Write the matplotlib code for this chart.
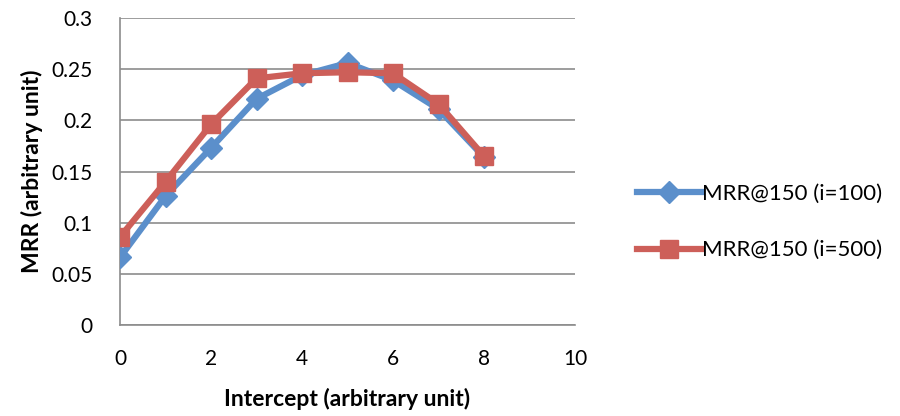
import matplotlib
matplotlib.use("Agg")
import matplotlib.pyplot as plt

# values
intercept = [0, 1, 2, 3, 4, 5, 6, 7, 8]
mrr_i100 = [0.066, 0.126, 0.173, 0.221, 0.244, 0.256, 0.239, 0.211, 0.164]
mrr_i500 = [0.086, 0.140, 0.196, 0.241, 0.246, 0.247, 0.246, 0.216, 0.165]
series_names = ["MRR@150 (i=100)", "MRR@150 (i=500)"]
y_ticks = [0, 0.05, 0.1, 0.15, 0.2, 0.25, 0.3]
y_tick_labels = ["0", "0.05", "0.1", "0.15", "0.2", "0.25", "0.3"]
x_ticks = [0, 2, 4, 6, 8, 10]

plt.rcParams["font.family"] = ["Lato", "DejaVu Sans"]

fig = plt.figure(figsize=(9, 4.16), dpi=100)
ax = fig.add_axes([120/900, 1 - 325/416, 455/900, 307/416])

grid_col = "#8c8c8c"
blue = "#5b8fcb"
red = "#cd5f59"

ax.plot(intercept, mrr_i100, color=blue, lw=4.5, marker="D", ms=11,
        label=series_names[0], zorder=3)
ax.plot(intercept, mrr_i500, color=red, lw=4.5, marker="s", ms=13,
        label=series_names[1], zorder=4)

ax.set_xlim(0, 10)
ax.set_ylim(0, 0.3)
ax.set_yticks(y_ticks)
ax.set_yticklabels(y_tick_labels)
ax.set_xticks(x_ticks)
ax.yaxis.grid(True, color=grid_col, lw=1.2)
ax.set_axisbelow(True)
for side in ["top", "right"]:
    ax.spines[side].set_visible(False)
for side in ["left", "bottom"]:
    ax.spines[side].set_color(grid_col)
    ax.spines[side].set_linewidth(1.2)
ax.tick_params(axis="both", length=0, labelsize=15, labelcolor="black")
ax.tick_params(axis="y", pad=20)
ax.tick_params(axis="x", pad=17)

ax.set_xlabel("Intercept (arbitrary unit)", fontsize=16.5, fontweight="bold", labelpad=14)
ax.set_ylabel("MRR (arbitrary unit)", fontsize=16.5, fontweight="bold", labelpad=6)

ax.legend(loc="center left", bbox_to_anchor=(628/900, 1 - 222/416),
          bbox_transform=fig.transFigure, frameon=False, fontsize=16,
          handlelength=2.9, handletextpad=0.05, labelspacing=1.65,
          borderaxespad=0)

fig.savefig("out.png", dpi=100)
